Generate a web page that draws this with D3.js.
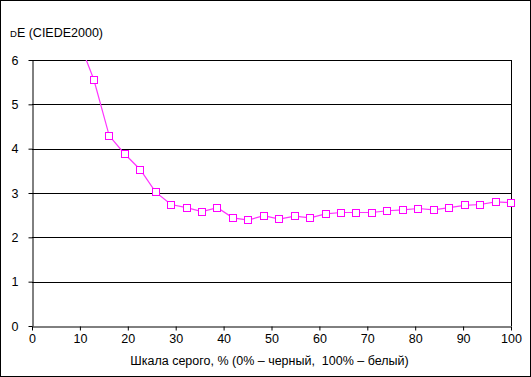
<!DOCTYPE html>
<html>
<head>
<meta charset="utf-8">
<script src="https://cdn.jsdelivr.net/npm/d3@7"></script>
<style>
  body { margin: 0; background: #fff; }
  text { font-family: "Liberation Sans", Arial, sans-serif; fill: #000; }
</style>
</head>
<body>
<div id="chart"></div>
<script>
////////////////////////////////////////////////////////////////////////
// Data: grey level (%) and dE (CIEDE2000), 32 steps, first ones off the chart

let steps = d3.range(3, 32);  // step indices, grey = step * 100 / 31
let grey = steps.map(function(s) { return s * 100 / 31; });
let dE = [6.46, 5.56, 4.29, 3.88, 3.53, 3.02, 2.74, 2.67, 2.58, 2.67, 2.44,
  2.39, 2.49, 2.41, 2.48, 2.44, 2.53, 2.56, 2.56, 2.56, 2.60, 2.62,
  2.65, 2.62, 2.67, 2.72, 2.74, 2.80, 2.78];

let xTicks = [0, 10, 20, 30, 40, 50, 60, 70, 80, 90, 100];
let yTicks = [0, 1, 2, 3, 4, 5, 6];

let yTitle = "E (CIEDE2000)";
let xTitle = "Шкала серого, % (0% – черный,  100% – белый)";

let points = grey.map(function(g, i) { return { x: g, y: dE[i] }; });

////////////////////////////////////////////////////////////////////////
// svg

let width = 531;
let height = 377;
let plotLeft = 32, plotRight = 511, plotTop = 60, plotBottom = 326;

let svg = d3.select("#chart")
  .append("svg")
  .attr("width", width).attr("height", height);

// outer frame
svg.append("rect")
  .attr("x", 0.5).attr("y", 0.5)
  .attr("width", width - 1).attr("height", height - 1)
  .attr("fill", "#fff").attr("stroke", "#000");

let xScale = d3.scaleLinear().domain([0, 100]).range([plotLeft, plotRight]);
let yScale = d3.scaleLinear().domain([0, 6]).range([plotBottom, plotTop]);

// gridlines
svg.append("g")
  .selectAll("line")
  .data(yTicks.slice(1))
  .enter().append("line")
  .attr("x1", plotLeft).attr("x2", plotRight)
  .attr("y1", function(d) { return Math.round(yScale(d)) + 0.5; })
  .attr("y2", function(d) { return Math.round(yScale(d)) + 0.5; })
  .attr("stroke", "#000");

// right border of plot area
svg.append("line")
  .attr("x1", plotRight + 0.5).attr("x2", plotRight + 0.5)
  .attr("y1", plotTop).attr("y2", plotBottom)
  .attr("stroke", "#000");

// axes
let xAxis = d3.axisBottom(xScale).tickValues(xTicks).tickFormat(d3.format("d"))
  .tickSize(4).tickSizeOuter(0).tickPadding(4);
let yAxis = d3.axisLeft(yScale).tickValues(yTicks).tickFormat(d3.format("d"))
  .tickSize(4).tickSizeOuter(0).tickPadding(10);

let gx = svg.append("g")
  .attr("transform", "translate(0," + (plotBottom + 0.5) + ")")
  .call(xAxis);
let gy = svg.append("g")
  .attr("transform", "translate(" + (plotLeft + 0.5) + ",0)")
  .call(yAxis);

[gx, gy].forEach(function(g) {
  g.selectAll("path,line").attr("stroke", "#000");
  g.selectAll("text")
    .style("font-family", "'Liberation Sans', Arial, sans-serif")
    .style("font-size", "12.5px")
    .attr("fill", "#000");
});

// clip to plot area
svg.append("clipPath").attr("id", "plotclip")
  .append("rect")
  .attr("x", plotLeft - 5).attr("y", plotTop)
  .attr("width", plotRight - plotLeft + 10).attr("height", plotBottom - plotTop);

let plot = svg.append("g").attr("clip-path", "url(#plotclip)");

let line = d3.line()
  .x(function(d) { return xScale(d.x); })
  .y(function(d) { return yScale(d.y); });

plot.append("path")
  .datum(points)
  .attr("d", line)
  .attr("fill", "none")
  .attr("stroke", "#ff33ff")
  .attr("stroke-width", 1.2);

plot.selectAll(".marker")
  .data(points)
  .enter().append("rect")
  .attr("class", "marker")
  .attr("x", function(d) { return Math.round(xScale(d.x)) - 3.5; })
  .attr("y", function(d) { return Math.round(yScale(d.y)) - 3.5; })
  .attr("width", 7).attr("height", 7)
  .attr("fill", "#fff")
  .attr("stroke", "#ff00ff")
  .attr("stroke-width", 1);

// titles
let yt = svg.append("text")
  .attr("x", 10).attr("y", 37)
  .style("font-size", "12.5px");
yt.append("tspan").style("font-size", "9.5px").text("D");
yt.append("tspan").text(yTitle);

svg.append("text")
  .attr("x", (plotLeft + plotRight) / 2 - 2).attr("y", 365)
  .attr("text-anchor", "middle")
  .style("font-size", "12.5px")
  .style("white-space", "pre")
  .text(xTitle);
</script>
</body>
</html>
